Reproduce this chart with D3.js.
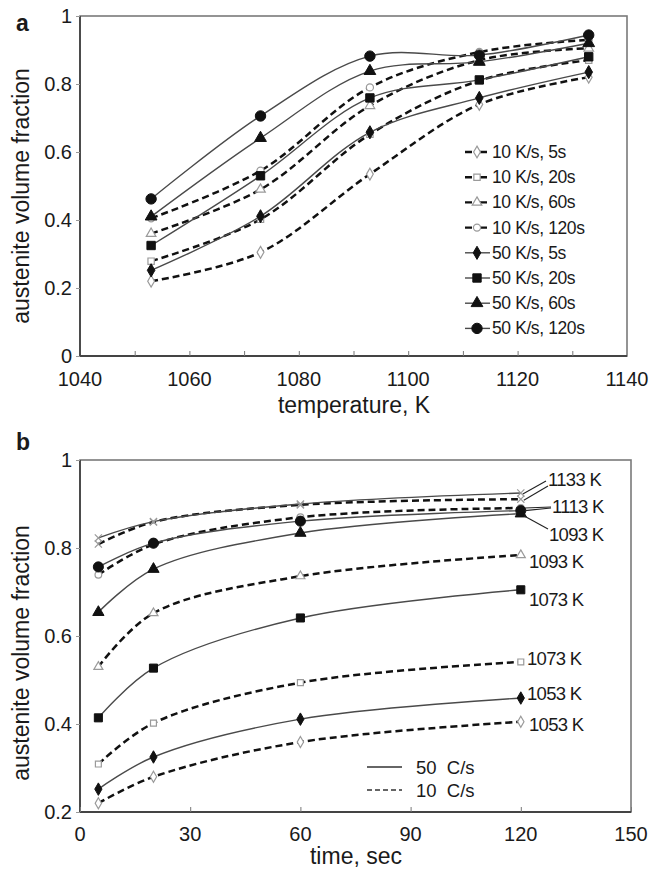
<!DOCTYPE html>
<html>
<head>
<meta charset="utf-8">
<script src="https://cdn.jsdelivr.net/npm/d3@7"></script>
<style>
  html, body { margin: 0; padding: 0; background: #fff; }
  svg text { font-family: "Liberation Sans", Arial, sans-serif; fill: #1a1a1a; }
</style>
</head>
<body>
<svg id="chart" width="650" height="870"></svg>
<script>
// ---- Panel a: austenite fraction vs. temperature ----
const temperatures = [1053, 1073, 1093, 1113, 1133];
const k10_5s   = [0.220, 0.305, 0.535, 0.740, 0.820];
const k10_20s  = [0.279, 0.402, 0.652, 0.810, 0.870];
const k10_60s  = [0.360, 0.490, 0.736, 0.870, 0.905];
const k10_120s = [0.405, 0.545, 0.790, 0.894, 0.930];
const k50_5s   = [0.252, 0.411, 0.658, 0.759, 0.835];
const k50_20s  = [0.325, 0.530, 0.759, 0.812, 0.880];
const k50_60s  = [0.410, 0.641, 0.838, 0.865, 0.920];
const k50_120s = [0.462, 0.706, 0.882, 0.885, 0.944];
const legendA = ["10 K/s, 5s", "10 K/s, 20s", "10 K/s, 60s", "10 K/s, 120s",
                 "50 K/s, 5s", "50 K/s, 20s", "50 K/s, 60s", "50 K/s, 120s"];
const tempTicks = [1040, 1060, 1080, 1100, 1120, 1140];
const fracTicksA = [0, 0.2, 0.4, 0.6, 0.8, 1];

// ---- Panel b: austenite fraction vs. holding time ----
const times = [5, 20, 60, 120];
const r50_1053 = [0.252, 0.325, 0.411, 0.459];
const r50_1073 = [0.414, 0.527, 0.641, 0.705];
const r50_1093 = [0.654, 0.752, 0.834, 0.878];
const r50_1113 = [0.757, 0.811, 0.861, 0.885];
const r50_1133 = [0.823, 0.860, 0.900, 0.925];
const r10_1053 = [0.220, 0.280, 0.359, 0.405];
const r10_1073 = [0.309, 0.402, 0.494, 0.541];
const r10_1093 = [0.530, 0.652, 0.736, 0.784];
const r10_1113 = [0.739, 0.808, 0.870, 0.891];
const r10_1133 = [0.809, 0.859, 0.898, 0.911];
const timeTicks = [0, 30, 60, 90, 120, 150];
const fracTicksB = [0.2, 0.4, 0.6, 0.8, 1];
const legendB = ["50  C/s", "10  C/s"];

const svg = d3.select("#chart");
const solidColor = "#4a4a4a", dashColor = "#111", openColor = "#9a9a9a";
const sym = {
  diamond: d3.symbolDiamond, square: d3.symbolSquare,
  triangle: d3.symbolTriangle, circle: d3.symbolCircle, cross: d3.symbolX
};

function drawFrame(g, x, y, w, h) {
  g.append("rect").attr("x", x).attr("y", y).attr("width", w).attr("height", h)
    .attr("fill", "none").attr("stroke", "#7a7a7a").attr("stroke-width", 1.6);
  g.append("path").attr("d", `M${x},${y}V${y + h}H${x + w}`)
    .attr("fill", "none").attr("stroke", "#444").attr("stroke-width", 1.8);
}

function marker(g, kind, px, py, filled, size) {
  g.append("path")
    .attr("d", d3.symbol(sym[kind], size)())
    .attr("transform", `translate(${px},${py})`)
    .attr("fill", filled ? "#111" : "#fff")
    .attr("stroke", filled ? "#111" : openColor)
    .attr("stroke-width", filled ? 1 : 1.2);
}

// ================= Panel a =================
{
  const L = 80, T = 16, R = 627, B = 356;
  const x = d3.scaleLinear().domain([1040, 1140]).range([L, R]);
  const y = d3.scaleLinear().domain([0, 1]).range([B, T]);
  const g = svg.append("g");

  drawFrame(g, L, T, R - L, B - T);

  // inward minor/major ticks on x, short outward ticks on y
  g.append("g").attr("transform", `translate(0,${B})`)
    .call(d3.axisBottom(x).tickValues(d3.range(1050, 1140, 10)).tickSize(-5).tickFormat(""))
    .call(a => a.select(".domain").remove())
    .call(a => a.selectAll("line").attr("stroke", "#777"));
  g.append("g").attr("transform", `translate(${L},0)`)
    .call(d3.axisLeft(y).tickValues(fracTicksA).tickSize(4).tickFormat(""))
    .call(a => a.select(".domain").remove())
    .call(a => a.selectAll("line").attr("stroke", "#999"));

  g.selectAll(".xt").data(tempTicks).join("text")
    .attr("x", d => x(d)).attr("y", B + 30).attr("text-anchor", "middle")
    .attr("font-size", 20).text(d => d);
  g.selectAll(".yt").data(fracTicksA).join("text")
    .attr("x", L - 8).attr("y", d => y(d) + 7).attr("text-anchor", "end")
    .attr("font-size", 20).text(d => d);

  g.append("text").attr("x", 354).attr("y", 413).attr("text-anchor", "middle")
    .attr("font-size", 23).text("temperature,  K");
  g.append("text").attr("transform", "translate(29,196) rotate(-90)")
    .attr("text-anchor", "middle").attr("font-size", 23).text("austenite volume fraction");
  g.append("text").attr("x", 16).attr("y", 31).attr("font-size", 23)
    .attr("font-weight", "bold").text("a");

  const series = [
    { v: k10_5s, dashed: true, m: "diamond" },
    { v: k10_20s, dashed: true, m: "square" },
    { v: k10_60s, dashed: true, m: "triangle" },
    { v: k10_120s, dashed: true, m: "circle" },
    { v: k50_5s, dashed: false, m: "diamond" },
    { v: k50_20s, dashed: false, m: "square" },
    { v: k50_60s, dashed: false, m: "triangle" },
    { v: k50_120s, dashed: false, m: "circle" }
  ];
  const line = d3.line().x(d => x(d[0])).y(d => y(d[1])).curve(d3.curveCatmullRom.alpha(0.5));
  const msize = { diamond: 50, square: 70, triangle: 60, circle: 85 };

  series.forEach(s => {
    const pts = temperatures.map((t, i) => [t, s.v[i]]);
    g.append("path").attr("d", line(pts)).attr("fill", "none")
      .attr("stroke", s.dashed ? dashColor : solidColor)
      .attr("stroke-width", s.dashed ? 2.5 : 1.4)
      .attr("stroke-dasharray", s.dashed ? "7,4" : null);
  });
  series.forEach(s => {
    temperatures.forEach((t, i) =>
      marker(g, s.m, x(t), y(s.v[i]), !s.dashed, s.dashed ? 40 : msize[s.m]));
  });

  // legend
  series.forEach((s, i) => {
    const ly = 152 + i * 25.2;
    g.append("line").attr("x1", 465).attr("x2", s.dashed ? 488 : 490)
      .attr("y1", ly).attr("y2", ly)
      .attr("stroke", s.dashed ? dashColor : solidColor)
      .attr("stroke-width", s.dashed ? 2.4 : 1.4)
      .attr("stroke-dasharray", s.dashed ? "7,4,2,2" : null);
    marker(g, s.m, 477, ly, !s.dashed, s.dashed ? 40 : msize[s.m]);
    g.append("text").attr("x", 492).attr("y", ly + 6).attr("font-size", 17.5)
      .attr("letter-spacing", -0.4).text(legendA[i]);
  });
}

// ================= Panel b =================
{
  const L = 80, T = 460, R = 631, B = 812;
  const x = d3.scaleLinear().domain([0, 150]).range([L, R]);
  const y = d3.scaleLinear().domain([0.2, 1]).range([B, T]);
  const g = svg.append("g");

  drawFrame(g, L, T, R - L, B - T);

  g.append("g").attr("transform", `translate(0,${B})`)
    .call(d3.axisBottom(x).tickValues(timeTicks).tickSize(-5).tickFormat(""))
    .call(a => a.select(".domain").remove())
    .call(a => a.selectAll("line").attr("stroke", "#777"));
  g.append("g").attr("transform", `translate(${L},0)`)
    .call(d3.axisLeft(y).tickValues(fracTicksB).tickSize(4).tickFormat(""))
    .call(a => a.select(".domain").remove())
    .call(a => a.selectAll("line").attr("stroke", "#999"));

  g.selectAll(".xt").data(timeTicks).join("text")
    .attr("x", d => x(d)).attr("y", B + 29).attr("text-anchor", "middle")
    .attr("font-size", 20).text(d => d);
  g.selectAll(".yt").data(fracTicksB).join("text")
    .attr("x", L - 8).attr("y", d => y(d) + 7).attr("text-anchor", "end")
    .attr("font-size", 20).text(d => d);

  g.append("text").attr("x", 356).attr("y", 864).attr("text-anchor", "middle")
    .attr("font-size", 23).text("time, sec");
  g.append("text").attr("transform", "translate(29,653) rotate(-90)")
    .attr("text-anchor", "middle").attr("font-size", 23).text("austenite volume fraction");
  g.append("text").attr("x", 16).attr("y", 450).attr("font-size", 23)
    .attr("font-weight", "bold").text("b");

  const series = [
    { v: r10_1053, dashed: true, m: "diamond" },
    { v: r10_1073, dashed: true, m: "square" },
    { v: r10_1093, dashed: true, m: "triangle" },
    { v: r10_1113, dashed: true, m: "circle" },
    { v: r10_1133, dashed: true, m: "cross" },
    { v: r50_1053, dashed: false, m: "diamond" },
    { v: r50_1073, dashed: false, m: "square" },
    { v: r50_1093, dashed: false, m: "triangle" },
    { v: r50_1113, dashed: false, m: "circle" },
    { v: r50_1133, dashed: false, m: "cross" }
  ];
  const line = d3.line().x(d => x(d[0])).y(d => y(d[1])).curve(d3.curveCatmullRom.alpha(0.5));
  const msize = { diamond: 45, square: 65, triangle: 55, circle: 80, cross: 40 };

  series.forEach(s => {
    const pts = times.map((t, i) => [t, s.v[i]]);
    g.append("path").attr("d", line(pts)).attr("fill", "none")
      .attr("stroke", s.dashed ? dashColor : solidColor)
      .attr("stroke-width", s.dashed ? 2.5 : 1.4)
      .attr("stroke-dasharray", s.dashed ? "7,4" : null);
  });
  series.forEach(s => {
    times.forEach((t, i) => {
      const filled = !s.dashed && s.m !== "cross";
      marker(g, s.m, x(t), y(s.v[i]), filled, s.dashed || s.m === "cross" ? 35 : msize[s.m]);
    });
  });

  // end-of-curve temperature labels with leaders
  const endX = x(120);
  const leader = (x1, y1, x2, y2) => g.append("line")
    .attr("x1", x1).attr("y1", y1).attr("x2", x2).attr("y2", y2)
    .attr("stroke", "#222").attr("stroke-width", 1.1);
  leader(546, 481, endX + 2, y(r50_1133[3]) + 1);
  leader(548, 486, endX + 3, y(r10_1133[3]) + 1);
  leader(551, 507, endX + 4, y(r10_1113[3]));
  leader(551, 508, endX + 4, y(r50_1113[3]));
  leader(548, 529, endX + 3, y(r50_1093[3]) + 2);

  const labels = [
    { t: "1133 K", x: 548, y: 486 },
    { t: "1113 K", x: 552, y: 513 },
    { t: "1093 K", x: 549, y: 541 },
    { t: "1093 K", x: 529, y: 568 },
    { t: "1073 K", x: 529, y: 606 },
    { t: "1073 K", x: 527, y: 665 },
    { t: "1053 K", x: 527, y: 700 },
    { t: "1053 K", x: 529, y: 731 }
  ];
  labels.forEach(l => g.append("text").attr("x", l.x).attr("y", l.y)
    .attr("font-size", 18.5).attr("letter-spacing", -0.7).text(l.t));

  // line-style legend
  [{ dashed: false, y: 767 }, { dashed: true, y: 790 }].forEach((e, i) => {
    g.append("line").attr("x1", 367).attr("x2", 402).attr("y1", e.y).attr("y2", e.y)
      .attr("stroke", "#333").attr("stroke-width", e.dashed ? 1.4 : 1.3)
      .attr("stroke-dasharray", e.dashed ? "5,3" : null);
    g.append("text").attr("x", 416).attr("y", e.y + 7).attr("font-size", 18.5)
      .style("white-space", "pre").text(legendB[i]);
  });
}
</script>
</body>
</html>
